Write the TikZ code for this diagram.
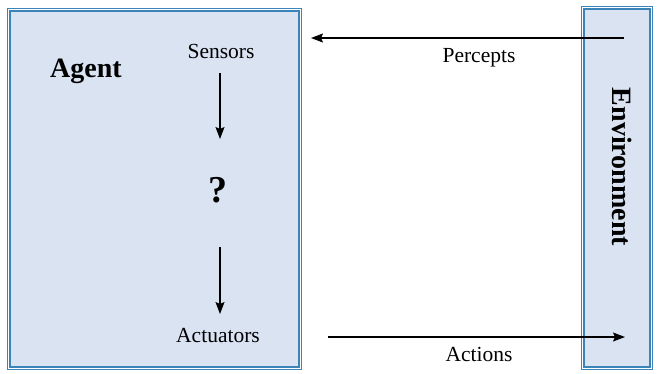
\documentclass[tikz,border=0pt]{standalone}
\usepackage{fontspec}
\setmainfont{Liberation Serif}
\usetikzlibrary{arrows.meta}
\definecolor{boxfill}{RGB}{218,227,242}
\definecolor{boxline}{RGB}{58,132,186}
\tikzset{
  panel/.style={draw=boxline, line width=1.4pt, double=white, double distance=1pt,
    fill=boxfill, inner sep=0pt},
  lbl/.style={font=\fontsize{21.5}{24}\selectfont, inner sep=0pt},
  title/.style={font=\fontsize{28}{32}\selectfont\bfseries, inner sep=0pt},
  flow/.style={line width=1.3pt, -{Stealth[length=12pt,width=9pt,inset=2pt]}}
}
\begin{document}
\begin{tikzpicture}[x=1pt,y=-1pt]
\useasboundingbox (0,0) rectangle (658,373);
\fill[white] (0,0) rectangle (658,373);

% agent and environment panels
\node[panel, minimum width=291.2pt, minimum height=358.2pt] (agent) at (154.5,189) {};
\node[panel, minimum width=68.2pt, minimum height=360.2pt] (env) at (617,188) {};

% labels inside the agent
\node[title] (agentlbl) at (86,71) {Agent};
\node[lbl] (sensors) at (221,51) {Sensors};
\node[font=\fontsize{38}{40}\selectfont\bfseries, inner sep=0pt] (think) at (218,190) {?};
\node[lbl] (actuators) at (218,335) {Actuators};
\node[title, rotate=-90] (envlbl) at (622,167) {Environment};

% internal flow
\coordinate (s1) at (220,73);
\coordinate (s2) at (220,139);
\coordinate (a1) at (220,247);
\coordinate (a2) at (220,314);
\draw[flow] (s1) -- (s2);
\draw[flow] (a1) -- (a2);

% exchange with the environment
\coordinate (pin) at (624,38);
\coordinate (pout) at (311,38);
\coordinate (ain) at (328,337);
\coordinate (aout) at (625,337);
\draw[flow] (pin) -- (pout);
\draw[flow] (ain) -- (aout);
\node[lbl] (percepts) at (479,58) {Percepts};
\node[lbl] (actions) at (479,354) {Actions};
\end{tikzpicture}
\end{document}
